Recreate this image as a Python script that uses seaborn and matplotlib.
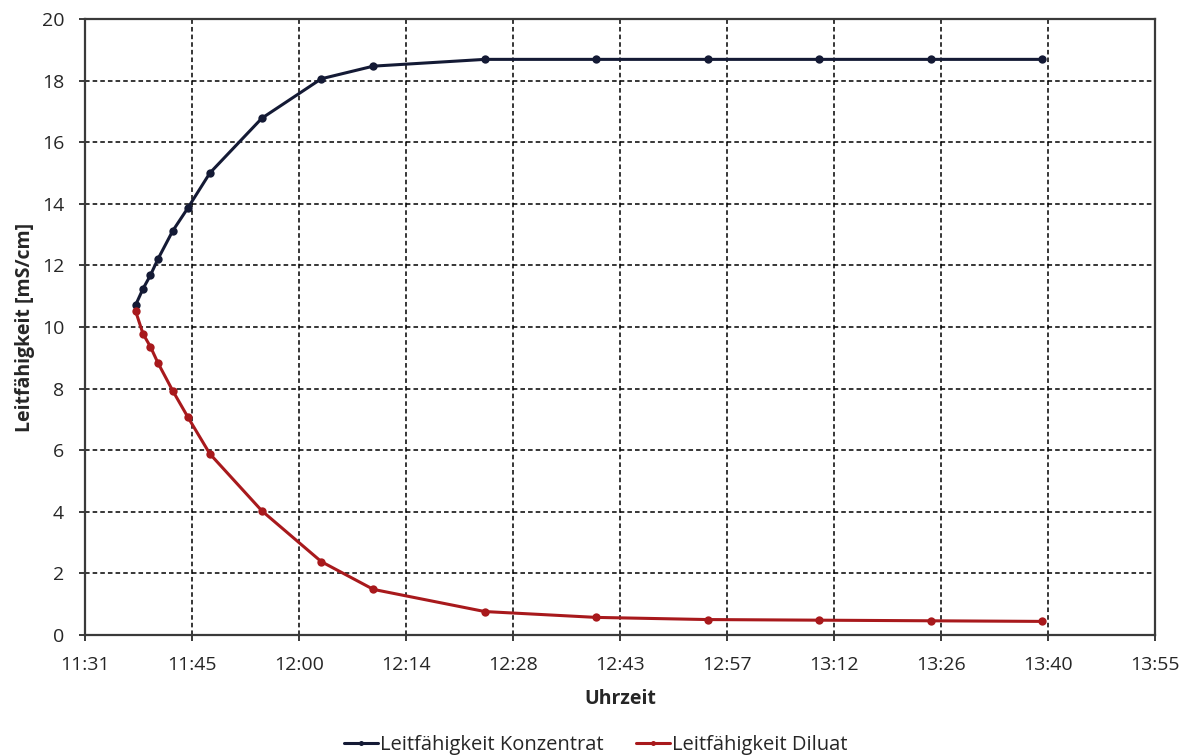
import numpy as np
import pandas as pd
import matplotlib
matplotlib.use("Agg")
import matplotlib.pyplot as plt
import seaborn as sns

# Messzeitpunkte (Uhrzeit) und Leitfähigkeiten in mS/cm
zeiten = ["11:38", "11:39", "11:40", "11:41", "11:43", "11:45", "11:48", "11:55",
          "12:03", "12:10", "12:25", "12:40", "12:55", "13:10", "13:25", "13:40"]
konzentrat = [10.71, 11.24, 11.68, 12.20, 13.12, 13.85, 15.00, 16.78,
              18.06, 18.47, 18.69, 18.69, 18.69, 18.69, 18.69, 18.69]
diluat = [10.52, 9.78, 9.36, 8.84, 7.93, 7.09, 5.88, 4.03,
          2.38, 1.48, 0.76, 0.57, 0.50, 0.48, 0.46, 0.44]

# Achsenbeschriftung wie in Excel (Schritt 0,01 Tage = 14,4 min)
x_ticklabels = ["11:31", "11:45", "12:00", "12:14", "12:28", "12:43",
                "12:57", "13:12", "13:26", "13:40", "13:55"]
y_ticks = [0, 2, 4, 6, 8, 10, 12, 14, 16, 18, 20]


def in_minuten(s):
    h, m = s.split(":")
    return int(h) * 60 + int(m)


minuten = [in_minuten(z) for z in zeiten]
df = pd.DataFrame({
    "Uhrzeit": minuten * 2,
    "Wert": konzentrat + diluat,
    "Reihe": ["Leitfähigkeit Konzentrat"] * len(zeiten) + ["Leitfähigkeit Diluat"] * len(zeiten),
})

sns.set_style("white")
plt.rcParams["font.family"] = ["Open Sans", "DejaVu Sans"]

fig = plt.figure(figsize=(11.91, 7.55), dpi=100)
ax = fig.add_axes([0.0714, 0.159, 0.8984, 0.8158])

sns.lineplot(data=df, x="Uhrzeit", y="Wert", hue="Reihe",
             palette={"Leitfähigkeit Konzentrat": "#141a35", "Leitfähigkeit Diluat": "#a8191c"},
             marker="o", markersize=6, markeredgewidth=0, linewidth=2.2,
             sort=False, ax=ax)

x0 = 0.48 * 1440
xt = [x0 + 14.4 * i for i in range(len(x_ticklabels))]
ax.set_xlim(xt[0], xt[-1])
ax.set_ylim(0, 20)
ax.set_xticks(xt)
ax.set_xticklabels(x_ticklabels)
ax.set_yticks(y_ticks)

ax.grid(True, color="black", linestyle=(0, (3, 2)), linewidth=1.1)
for s in ax.spines.values():
    s.set_color("#3a3a3a")
    s.set_linewidth(1.6)
ax.tick_params(axis="both", which="major", direction="out", length=4.5, width=1.4,
               color="#3a3a3a", labelsize=14, pad=10.5, bottom=True, left=True)

ax.set_xlabel("Uhrzeit", fontsize=14, fontweight="bold", labelpad=11)
ax.set_ylabel("Leitfähigkeit [mS/cm]", fontsize=14, fontweight="bold", labelpad=5)

handles, labels = ax.get_legend_handles_labels()
ax.legend(handles, labels, loc="center", bbox_to_anchor=(0.477, -0.178),
          ncol=2, frameon=False, fontsize=14.5, handlelength=1.7, handletextpad=0.1,
          columnspacing=1.6, markerscale=0.6, borderpad=0)

fig.savefig("out.png", dpi=100)
